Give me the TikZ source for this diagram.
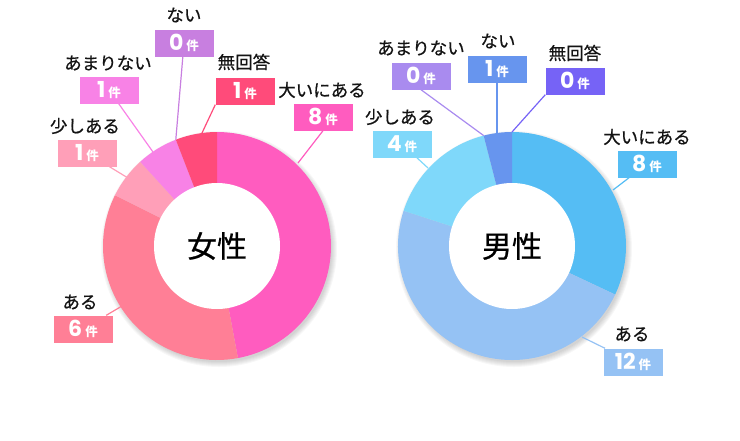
\documentclass[tikz,border=0pt]{standalone}
\usepackage{fontspec}
\setmainfont{Noto Sans CJK JP}
\newfontfamily\numfont{Poppins}
\newfontfamily\lblfont{Noto Sans CJK JP}[FakeBold=0.7]
\usetikzlibrary{positioning}

\definecolor{fOoini}{HTML}{FF5CBF}
\definecolor{fAru}{HTML}{FF7F96}
\definecolor{fSukoshi}{HTML}{FF9FB8}
\definecolor{fAmari}{HTML}{F882E6}
\definecolor{fNai}{HTML}{C87FE0}
\definecolor{fMu}{HTML}{FF4B7A}
\definecolor{mOoini}{HTML}{55BDF4}
\definecolor{mAru}{HTML}{95C2F4}
\definecolor{mSukoshi}{HTML}{7FD8FA}
\definecolor{mAmari}{HTML}{A98BEF}
\definecolor{mNai}{HTML}{6795EE}
\definecolor{mMu}{HTML}{7663F6}

\tikzset{
	cnt/.style={fill=#1, text=white, minimum width=59pt, minimum height=27pt, inner sep=0pt,
		font=\numfont\bfseries\fontsize{22}{22}\selectfont},
	lbl/.style={inner sep=0pt, text=black!92, font=\lblfont\fontsize{17.5}{18}\selectfont},
	lead/.style={draw=#1, line width=1.2pt},
	ttl/.style={inner sep=0pt, text=black, font=\lblfont\fontsize{30}{31}\selectfont}
}
\newcommand{\ken}[1]{#1\hspace{3pt}{\rmfamily\bfseries\fontsize{12.5}{12.5}\selectfont 件}}

\begin{document}
\begin{tikzpicture}[x=1pt, y=-1pt]
	\useasboundingbox (0,0) rectangle (740,440);
	\coordinate (fc) at (217,246);
	\coordinate (mc) at (512,246);

	% shadows
	\foreach \k in {0,...,5} {
		\fill[black, opacity=0.03] (fc) ++(2,3) circle[radius=113+\k];
		\fill[black, opacity=0.03] (mc) ++(2,3) circle[radius=113+\k];
	}

	% josei
	\foreach \a/\b/\c in {-90/79.41/fOoini, 79.41/206.47/fAru, 206.47/227.65/fSukoshi,
		227.65/248.82/fAmari, 248.82/270/fMu}
		\fill[\c] (fc) -- ++(\a:114) arc[start angle=\a, end angle=\b, radius=114] -- cycle;
	\fill[white] (fc) circle[radius=63];
	\node[ttl] (f-title) at (fc) {女性};

	% dansei
	\foreach \a/\b/\c in {-90/25.2/mOoini, 25.2/198/mAru, 198/255.6/mSukoshi, 255.6/270/mNai}
		\fill[\c] (mc) -- ++(\a:114) arc[start angle=\a, end angle=\b, radius=114] -- cycle;
	\fill[white] (mc) circle[radius=63];
	\node[ttl] (m-title) at (mc) {男性};

	% edge points
	\coordinate (f-ooini-p) at (298,163);
	\coordinate (f-mu-p) at (202,133);
	\coordinate (f-nai-p) at (175.8,139.7);
	\coordinate (f-amari-p) at (153,152);
	\coordinate (f-sukoshi-p) at (128,178);
	\coordinate (f-aru-p) at (122,306);
	\coordinate (m-amari-p) at (483.7,135.6);
	\coordinate (m-nai-p) at (497,132.5);
	\coordinate (m-mu-p) at (512,132);
	\coordinate (m-sukoshi-p) at (428,168);
	\coordinate (m-ooini-p) at (613,190);
	\coordinate (m-aru-p) at (582,337);

	% counts
	\node[cnt=fNai] (f-nai) at (184,43) {\ken{0}};
	\node[cnt=fAmari] (f-amari) at (109,90) {\ken{1}};
	\node[cnt=fMu] (f-mu) at (245,91) {\ken{1}};
	\node[cnt=fOoini] (f-ooini) at (323,117) {\ken{8}};
	\node[cnt=fSukoshi] (f-sukoshi) at (87,153) {\ken{1}};
	\node[cnt=fAru] (f-aru) at (83,329) {\ken{6}};
	\node[cnt=mAmari] (m-amari) at (421,76) {\ken{0}};
	\node[cnt=mNai] (m-nai) at (497,69) {\ken{1}};
	\node[cnt=mMu] (m-mu) at (575,81) {\ken{0}};
	\node[cnt=mSukoshi] (m-sukoshi) at (402,144) {\ken{4}};
	\node[cnt=mOoini] (m-ooini) at (647,164) {\ken{8}};
	\node[cnt=mAru] (m-aru) at (633,362) {\ken{12}};

	% leaders
	\draw[lead=fNai] (f-nai) -- (f-nai-p);
	\draw[lead=fAmari] (f-amari) -- (f-amari-p);
	\draw[lead=fMu] (f-mu.south west) -- (f-mu-p);
	\draw[lead=fOoini] (f-ooini.south) -- (f-ooini-p);
	\draw[lead=fSukoshi] (f-sukoshi) -- (f-sukoshi-p);
	\draw[lead=fAru] (f-aru) -- (f-aru-p);
	\draw[lead=mAmari] (m-amari.south) -- (m-amari-p);
	\draw[lead=mNai] (m-nai) -- (m-nai-p);
	\draw[lead=mMu] (m-mu.south west) -- (m-mu-p);
	\draw[lead=mSukoshi] (m-sukoshi) -- (m-sukoshi-p);
	\draw[lead=mOoini] (m-ooini) -- (m-ooini-p);
	\draw[lead=mAru] (m-aru) -- (m-aru-p);

	% labels
	\node[lbl] (f-nai-t) at (184,15) {ない};
	\node[lbl] (f-amari-t) at (108,63) {あまりない};
	\node[lbl] (f-mu-t) at (244,62) {無回答};
	\node[lbl] (f-ooini-t) at (322,90) {大いにある};
	\node[lbl] (f-sukoshi-t) at (85,126) {少しある};
	\node[lbl] (f-aru-t) at (80,302) {ある};
	\node[lbl] (m-amari-t) at (421,48) {あまりない};
	\node[lbl] (m-nai-t) at (498,41) {ない};
	\node[lbl] (m-mu-t) at (575,53) {無回答};
	\node[lbl] (m-sukoshi-t) at (400,117) {少しある};
	\node[lbl] (m-ooini-t) at (647,137) {大いにある};
	\node[lbl] (m-aru-t) at (632,334) {ある};
\end{tikzpicture}
\end{document}
